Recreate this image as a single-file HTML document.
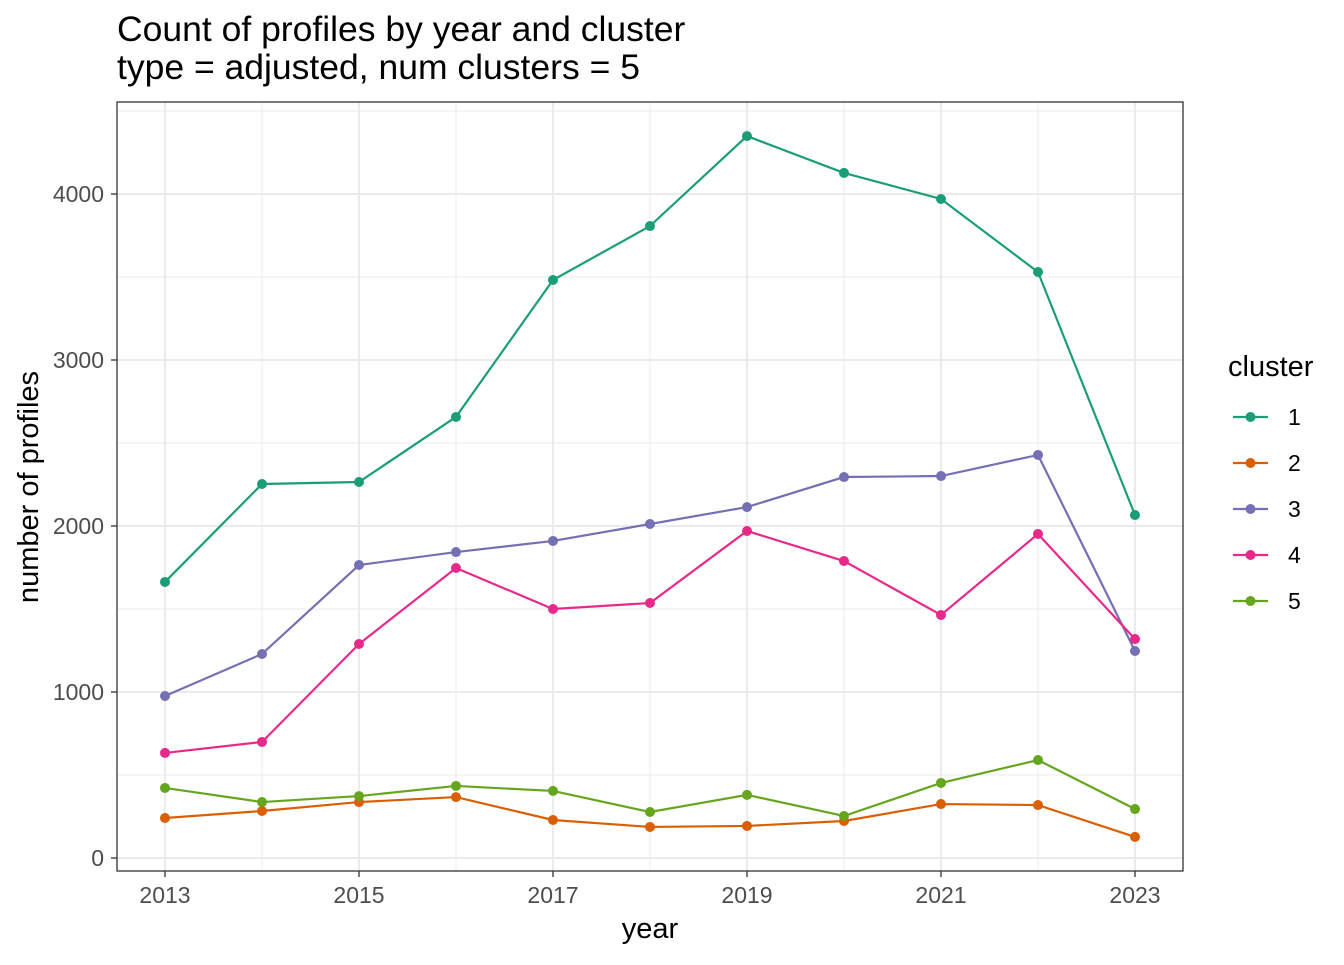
<!DOCTYPE html>
<html><head><meta charset="utf-8"><style>
body{margin:0;background:#fff}
svg text{font-family:"Liberation Sans",sans-serif}
</style></head><body>
<svg id="c" width="1344" height="960">
<text x="117" y="41" font-size="35.5" fill="#000">Count of profiles by year and cluster</text>
<text x="117" y="79" font-size="35.5" fill="#000">type = adjusted, num clusters = 5</text>
<g id="grid"></g><g id="series"></g><g id="axes"></g>
<text x="650" y="938" font-size="29" text-anchor="middle">year</text>
<text transform="translate(38,487) rotate(-90)" font-size="29" text-anchor="middle">number of profiles</text>
<g id="legend"></g>
</svg>
<script>
const years=[2013,2014,2015,2016,2017,2018,2019,2020,2021,2022,2023];
const c1=[1663,2253,2265,2657,3482,3807,4349,4127,3970,3530,2066];
const c2=[241,283,337,367,229,187,193,223,325,319,127];
const c3=[976,1229,1765,1843,1910,2012,2114,2295,2301,2428,1247];
const c4=[633,699,1289,1747,1500,1536,1970,1789,1464,1952,1319];
const c5=[422,337,373,434,404,277,380,253,452,590,295];
const yTicks=[0,1000,2000,3000,4000];
const xTicks=[2013,2015,2017,2019,2021,2023];
const seriesNames=["1","2","3","4","5"];
const colors=["#1B9E77","#D95F02","#7570B3","#E7298A","#66A61E"];
const NS="http://www.w3.org/2000/svg";
const L=117,R=1183,T=102,B=871;
const xs=v=>165+(v-2013)*97;
const ys=v=>858-v*0.166;
function mk(p,t,a){const e=document.createElementNS(NS,t);for(const k in a)e.setAttribute(k,a[k]);document.getElementById(p).appendChild(e);return e;}
for(let v=-500;v<=4500;v+=500){const y=ys(v);if(y<T||y>B)continue;const major=v%1000===0;
 const g=mk('grid','line',{x1:L,x2:R,y1:y,y2:y,stroke:'#EBEBEB','stroke-width':major?2:1});
 
 }
for(let yr=2013;yr<=2023;yr++){const x=xs(yr);const major=(yr-2013)%2===0;
 const g=mk('grid','line',{x1:x,x2:x,y1:T,y2:B,stroke:'#EBEBEB','stroke-width':major?2:1});
 
 }
const all=[c1,c2,c3,c4,c5];
all.forEach((s,i)=>{
 const pl=mk('series','polyline',{points:s.map((v,j)=>xs(years[j])+','+ys(v)).join(' '),fill:'none',stroke:colors[i],'stroke-width':2.2});
 
 
 s.forEach((v,j)=>{const c=mk('series','circle',{cx:xs(years[j]),cy:ys(v),r:5,fill:colors[i]});
  
  });
});
const fr=mk('axes','rect',{x:L,y:T,width:R-L,height:B-T,fill:'none',stroke:'#333','stroke-width':1.3});


yTicks.forEach(v=>{const y=ys(v);mk('axes','line',{x1:L-6,x2:L,y1:y,y2:y,stroke:'#333','stroke-width':1.3});
 const t=mk('axes','text',{x:L-13,y:y+8,'font-size':23,fill:'#4D4D4D','text-anchor':'end'});t.textContent=v;
 
 });
xTicks.forEach(v=>{const x=xs(v);mk('axes','line',{x1:x,x2:x,y1:B,y2:B+6,stroke:'#333','stroke-width':1.3});
 const t=mk('axes','text',{x:x,y:B+32,'font-size':23,fill:'#4D4D4D','text-anchor':'middle'});t.textContent=v;
 
 });
const lt=mk('legend','text',{x:1228,y:376,'font-size':29});lt.textContent='cluster';


seriesNames.forEach((n,i)=>{const y=417+i*46;
 mk('legend','line',{x1:1233,x2:1268,y1:y,y2:y,stroke:colors[i],'stroke-width':2.2});
 mk('legend','circle',{cx:1250.5,cy:y,r:5,fill:colors[i]});
 const t=mk('legend','text',{x:1288,y:y+8,'font-size':23});t.textContent=n;
 
 });
</script>
</body></html>
